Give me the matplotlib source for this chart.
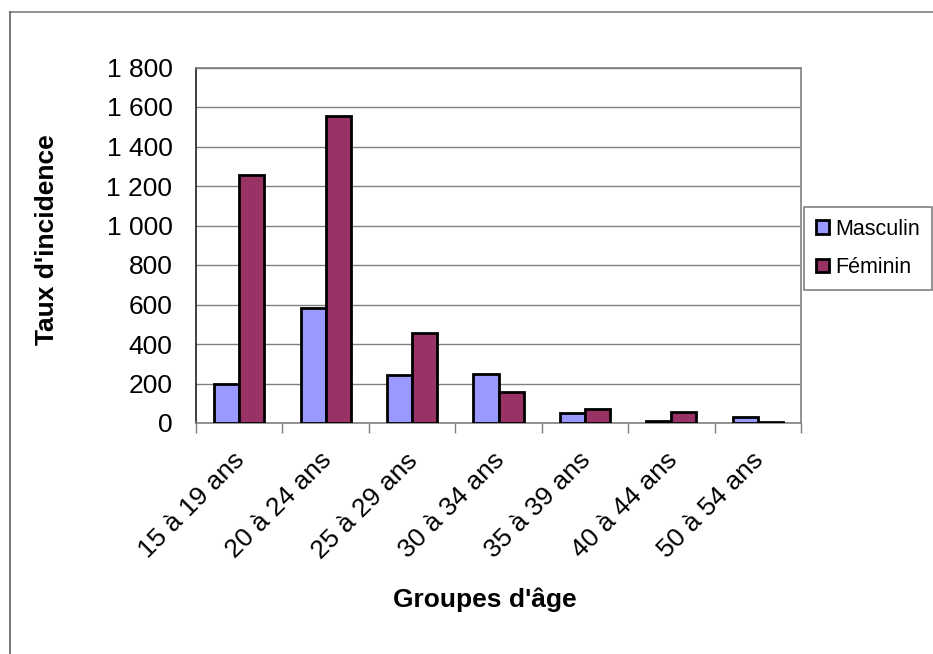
import matplotlib
matplotlib.use("Agg")
import matplotlib.pyplot as plt
from matplotlib.ticker import FuncFormatter, FixedLocator
from matplotlib.transforms import ScaledTranslation
from matplotlib.lines import Line2D
import numpy as np

plt.rcParams['font.family'] = ['Liberation Sans', 'DejaVu Sans']

categories = ["15 à 19 ans", "20 à 24 ans", "25 à 29 ans", "30 à 34 ans",
              "35 à 39 ans", "40 à 44 ans", "50 à 54 ans"]
masculin = [197, 582, 245, 248, 53, 10, 28]
feminin = [1258, 1555, 456, 157, 69, 56, 5]
series_names = ["Masculin", "Féminin"]
colors = ["#9999FF", "#993366"]
yticks = [0, 200, 400, 600, 800, 1000, 1200, 1400, 1600, 1800]

W, H = 933, 654
fig = plt.figure(figsize=(W / 100, H / 100), dpi=100)

# outer chart frame (top and left visible)
fig.add_artist(Line2D([10 / W, 1.0], [1 - 12 / H, 1 - 12 / H], color="#808080", lw=1.2))
fig.add_artist(Line2D([10 / W, 10 / W], [0, 1 - 12 / H], color="#606060", lw=1.2))

left, right, top, bottom = 196, 801, 67.5, 423
ax = fig.add_axes([left / W, 1 - bottom / H, (right - left) / W, (bottom - top) / H])

x = np.arange(len(categories))
bw = 0.29
ax.bar(x - bw / 2, masculin, bw, color=colors[0], edgecolor="black", linewidth=2,
       label=series_names[0], zorder=3)
ax.bar(x + bw / 2, feminin, bw, color=colors[1], edgecolor="black", linewidth=2,
       label=series_names[1], zorder=3)

ax.set_xlim(-0.5, len(categories) - 0.5)
ax.set_ylim(0, 1800)
ax.set_yticks(yticks)
ax.yaxis.set_major_formatter(FuncFormatter(lambda v, p: f"{int(v):,}".replace(",", " ")))
ax.grid(axis="y", color="#808080", lw=1, zorder=0)
ax.tick_params(axis="y", length=0, pad=17, labelsize=19)

ax.set_xticks(x)
ax.set_xticklabels(categories, rotation=45, ha="right", va="center",
                   rotation_mode="anchor", fontsize=19)
ax.xaxis.set_minor_locator(FixedLocator(np.arange(-0.5, len(categories), 1.0)))
ax.tick_params(axis="x", which="major", length=0, pad=12)
ax.tick_params(axis="x", which="minor", length=7, color="#808080", width=1)
off = ScaledTranslation(2 / 100, -17 / 100, fig.dpi_scale_trans)
for lab in ax.get_xticklabels():
    lab.set_transform(lab.get_transform() + off)

for s in ["top", "right", "bottom"]:
    ax.spines[s].set_color("#808080")
    ax.spines[s].set_linewidth(1.2)
ax.spines["left"].set_color("#202020")
ax.spines["left"].set_linewidth(1.2)

fig.text(485 / W, 1 - 600 / H, "Groupes d'âge", fontsize=19, fontweight="bold",
         ha="center", va="center")
fig.text(47 / W, 1 - 240 / H, "Taux d'incidence", fontsize=19, fontweight="bold",
         ha="center", va="center", rotation=90)

leg = fig.legend(loc="upper left", bbox_to_anchor=(804 / W, 1 - 207 / H),
                 fontsize=15.5, frameon=True, fancybox=False, edgecolor="#606060",
                 handlelength=0.6, handleheight=0.6, handletextpad=0.3,
                 labelspacing=0.8, borderpad=0.55, borderaxespad=0)
leg.get_frame().set_linewidth(1.2)

fig.savefig("out.png", dpi=100)
